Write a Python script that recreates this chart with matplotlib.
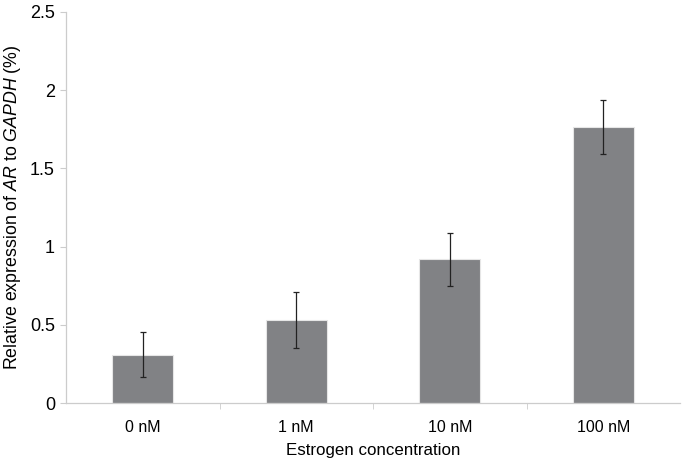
import matplotlib
matplotlib.use('Agg')
import matplotlib.pyplot as plt
import numpy as np

# Data
categories = ['0 nM', '1 nM', '10 nM', '100 nM']
values = [0.31, 0.53, 0.92, 1.765]
errors = [0.145, 0.18, 0.17, 0.17]

plt.rcParams['font.family'] = ['Liberation Sans', 'DejaVu Sans']
plt.rcParams['mathtext.fontset'] = 'custom'
plt.rcParams['mathtext.rm'] = 'Liberation Sans'
plt.rcParams['mathtext.it'] = 'Liberation Sans:italic'

fig = plt.figure(figsize=(6.85, 4.59), dpi=100)
ax = fig.add_axes([66 / 685, 56 / 459, 614 / 685, 391 / 459])

x = np.arange(len(categories))
ax.bar(x, values, width=0.4, color='#818285', edgecolor='#e6e6e6', linewidth=0.8,
       yerr=errors, capsize=2.5, error_kw=dict(ecolor='#222222', elinewidth=0.9, capthick=0.9))

ax.set_xlim(-0.5, 3.5)
ax.set_ylim(0, 2.5)
ax.set_yticks([0, 0.5, 1, 1.5, 2, 2.5])
ax.set_yticklabels(['0', '0.5', '1', '1.5', '2', '2.5'], fontsize=13)
ax.set_xticks(x)
ax.set_xticklabels(categories, fontsize=11.5)
ax.set_xticks([0.5, 1.5, 2.5], minor=True)
ax.tick_params(axis='x', which='major', length=0, pad=12)
ax.tick_params(axis='x', which='minor', length=4, color='#cccccc', direction='out')
ax.tick_params(axis='y', length=4, color='#cccccc', direction='out', pad=4)

for s in ['top', 'right']:
    ax.spines[s].set_visible(False)
for s in ['left', 'bottom']:
    ax.spines[s].set_color('#cccccc')
    ax.spines[s].set_linewidth(0.9)

ax.set_xlabel('Estrogen concentration', fontsize=12.2, labelpad=6)
ax.set_ylabel(r'Relative expression of $\mathit{AR}$ to $\mathit{GAPDH}$ (%)', fontsize=12.8, labelpad=5)

fig.savefig('out.png', dpi=100)
